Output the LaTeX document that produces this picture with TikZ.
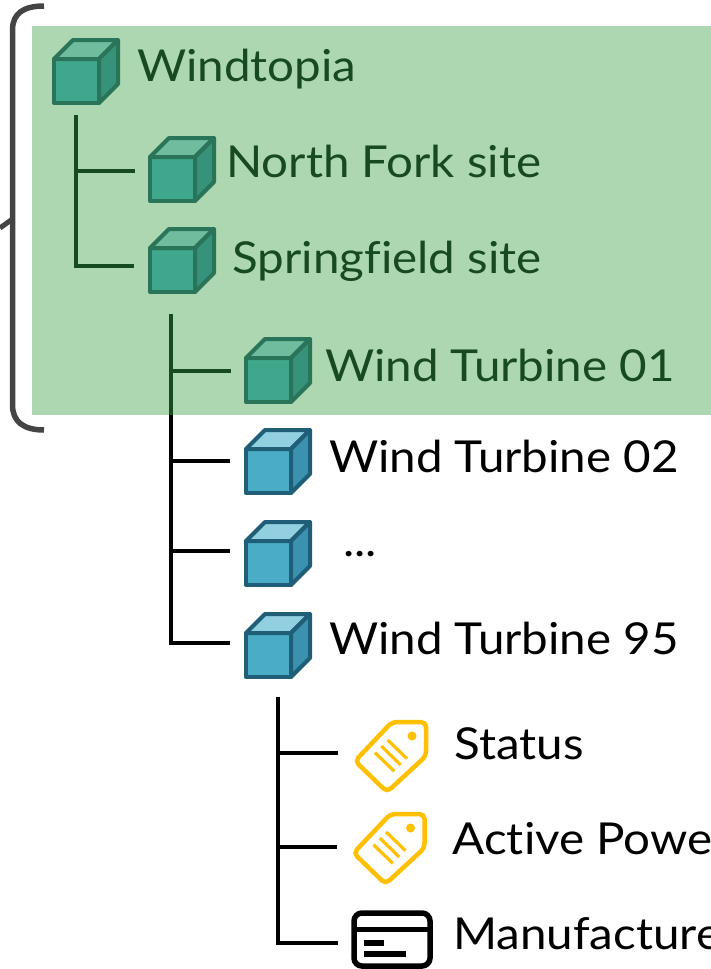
\documentclass[tikz,border=0pt]{standalone}
\usepackage{fontspec}
\setmainfont[FakeStretch=1.08,Ligatures=NoCommon]{Lato}
\definecolor{panelgreen}{HTML}{ADD7B0}
\definecolor{darkgreen}{HTML}{174A1F}
\definecolor{bracketgray}{HTML}{444444}
\definecolor{taggold}{HTML}{FFC000}
\definecolor{gfront}{HTML}{3FA88C}\definecolor{gtop}{HTML}{6FBD9E}\definecolor{gside}{HTML}{36937A}\definecolor{gedge}{HTML}{2A7459}
\definecolor{bfront}{HTML}{4BACC8}\definecolor{btop}{HTML}{92CFE0}\definecolor{bside}{HTML}{3A92AE}\definecolor{bedge}{HTML}{1F5E76}
\tikzset{
  label/.style={anchor=base west,inner sep=0pt,font=\fontsize{44}{44}\selectfont},
  greenlabel/.style={label,text=darkgreen},
  treeline/.style={line width=4pt,line cap=butt,line join=miter},
  tagline/.style={taggold,line width=3.2pt},
  pics/cube/.style n args={4}{code={
    \draw[#4,line width=4pt,line join=round,fill=#1] (0,0) rectangle (45,-44);
    \draw[#4,line width=4pt,line join=round,fill=#2] (0,-44) -- (19,-63) -- (64,-63) -- (45,-44) -- cycle;
    \draw[#4,line width=4pt,line join=round,fill=#3] (45,0) -- (64,-19) -- (64,-63) -- (45,-44) -- cycle;
  }},
  pics/tag/.style={code={
    \draw[taggold,line width=4.5pt,rounded corners=5pt,fill=white] (34,0) -- (68,0) -- (68,34) -- (29,70) -- (-3,39) -- cycle;
    \fill[taggold] (54,14) circle (4.5);
    \draw[tagline] (29.7,18) -- (49,36.7);
    \draw[tagline] (23.3,24) -- (42.7,43);
    \draw[tagline] (17,30.7) -- (36.3,49.3);
  }}
}
\begin{document}
\begin{tikzpicture}[x=1pt,y=-1pt]
\useasboundingbox (0,0) rectangle (711,969);
\clip (0,0) rectangle (711,969);
\fill[white] (0,0) rectangle (711,969);

% bracket
\coordinate (bt) at (44,6);
\coordinate (bb) at (44,430);
\coordinate (bm) at (12.5,219);
\coordinate (bl) at (0,228);
\draw[bracketgray,line width=5.5pt] (bt) .. controls (24,6) and (12.5,13) .. (12.5,30) -- (12.5,405) .. controls (12.5,422) and (24,430) .. (bb);
\draw[bracketgray,line width=5pt] (bl) -- (bm);

% panel
\fill[panelgreen] (32,26) rectangle (711,415);

% tree 1
\coordinate (a0) at (76,115);
\coordinate (a1) at (76,171);
\coordinate (a2) at (76,266);
\coordinate (a1e) at (135,171);
\coordinate (a2e) at (134,266);
\draw[treeline,darkgreen] (a0) -- (a2) -- (a2e);
\draw[treeline,darkgreen] (a1) -- (a1e);

% tree 2
\coordinate (c0) at (171,314);
\coordinate (cs) at (171,415);
\coordinate (c1) at (171,371);
\coordinate (c1e) at (231,371);
\coordinate (c2) at (171,461);
\coordinate (c2e) at (230,461);
\coordinate (c3) at (171,551);
\coordinate (c3e) at (230,551);
\coordinate (c4) at (171,643);
\coordinate (c4e) at (230,643);
\draw[treeline,darkgreen] (c0) -- (cs);
\draw[treeline,darkgreen] (c1) -- (c1e);
\draw[treeline,black] (cs) -- (c4) -- (c4e);
\draw[treeline,black] (c2) -- (c2e);
\draw[treeline,black] (c3) -- (c3e);

% tree 3
\coordinate (d0) at (278,697);
\coordinate (d1) at (278,753);
\coordinate (d1e) at (338,753);
\coordinate (d2) at (278,847);
\coordinate (d2e) at (337,847);
\coordinate (d3) at (278,943);
\coordinate (d3e) at (338,943);
\draw[treeline,black] (d0) -- (d3) -- (d3e);
\draw[treeline,black] (d1) -- (d1e);
\draw[treeline,black] (d2) -- (d2e);

% cubes
\pic at (54,103) {cube={gfront}{gtop}{gside}{gedge}};
\pic at (150,201) {cube={gfront}{gtop}{gside}{gedge}};
\pic at (150,292) {cube={gfront}{gtop}{gside}{gedge}};
\pic at (246,402) {cube={gfront}{gtop}{gside}{gedge}};
\pic at (246,493) {cube={bfront}{btop}{bside}{bedge}};
\pic at (246,585) {cube={bfront}{btop}{bside}{bedge}};
\pic at (246,677) {cube={bfront}{btop}{bside}{bedge}};

% tags
\pic at (358,722) {tag};
\pic at (356.5,814) {tag};

% card
\draw[black,line width=5.5pt,rounded corners=8pt] (354,913) rectangle (430,966);
\draw[black,line width=5pt] (354,929.5) -- (430,929.5);
\fill[black] (364,940) rectangle (384,945.5);
\fill[black] (364,951) rectangle (406,956.5);

% labels
\node[greenlabel] (windtopia) at (137,81) {Windtopia};
\node[greenlabel] (north) at (226,177) {North Fork site};
\node[greenlabel] (spring) at (232.5,273) {Springfield site};
\node[greenlabel] (wt01) at (325,381) {Wind Turbine 01};
\node[label] (wt02) at (329,472) {Wind Turbine 02};
\node[label] (dots) at (343,556) {...};
\node[label] (wt95) at (329,654) {Wind Turbine 95};
\node[label] (status) at (454.5,759) {Status};
\node[label] (power) at (452.5,854) {Active Powe};
\node[label] (manu) at (453,949) {Manufacture};
\end{tikzpicture}
\end{document}
